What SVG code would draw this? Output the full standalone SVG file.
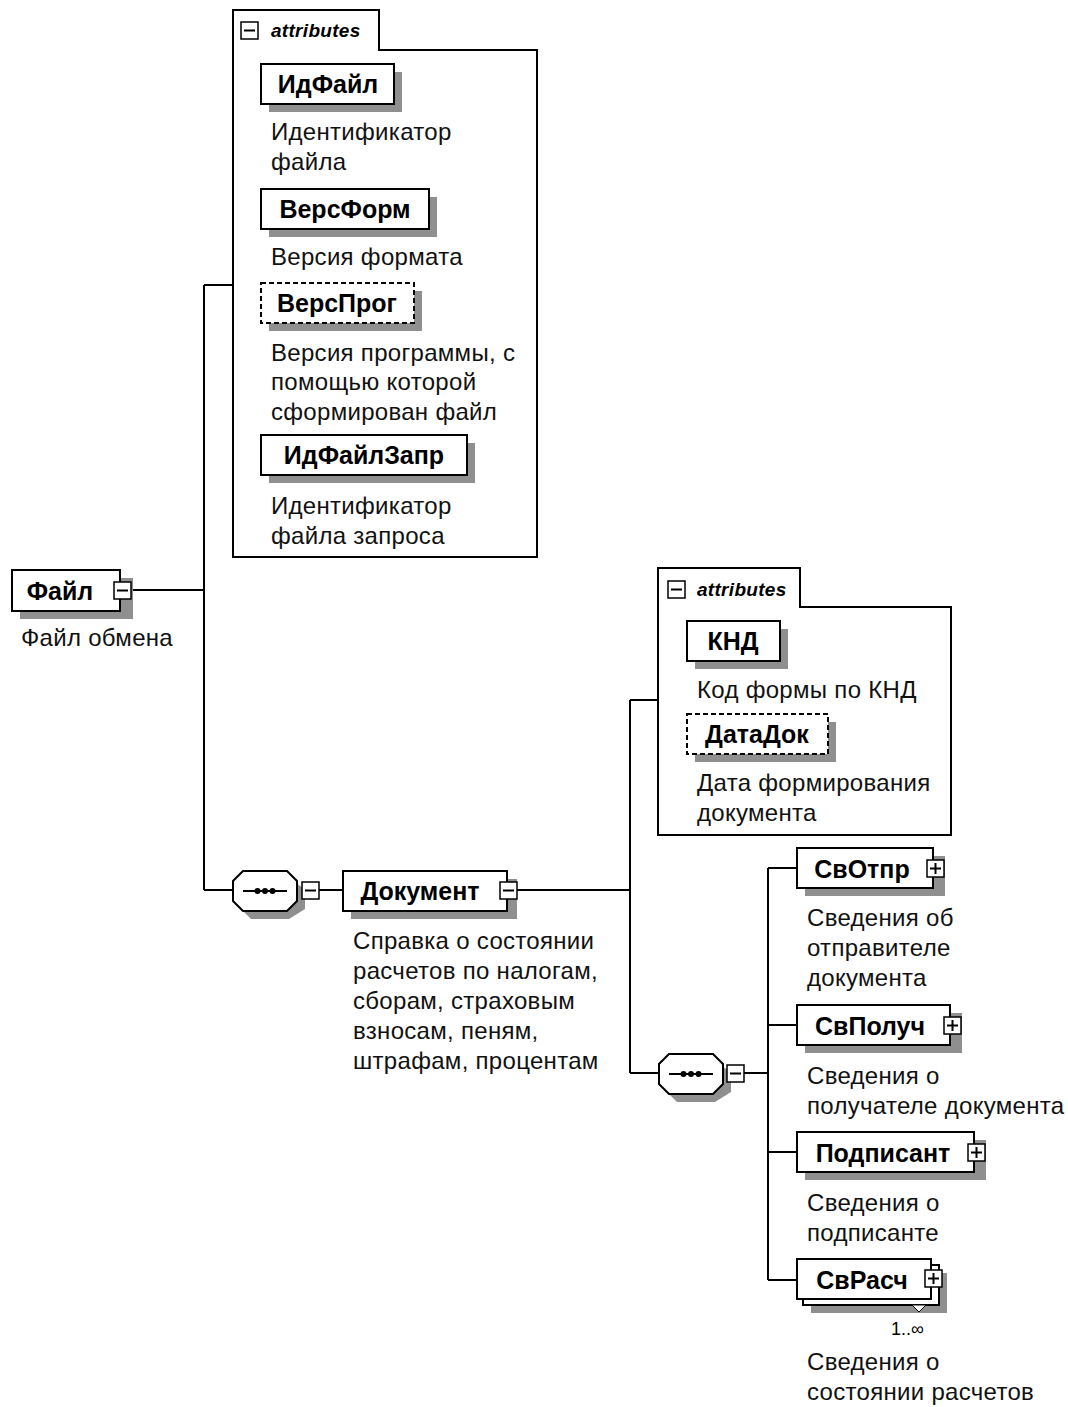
<svg xmlns="http://www.w3.org/2000/svg" width="1068" height="1407" viewBox="0 0 1068 1407">
<defs>
<style>
.bg{fill:#fff}
.box{fill:#fff;stroke:#000;stroke-width:2}
.dbox{fill:#fff;stroke:#000;stroke-width:2;stroke-dasharray:5 3}
.sh{fill:#8f8f8f}
.btn{fill:#fff;stroke:#000;stroke-width:1.5}
.ln{stroke:#000;stroke-width:2;fill:none}
.lbl{font-family:"Liberation Sans",Arial,sans-serif;font-weight:bold;font-size:25px;fill:#000;text-anchor:middle}
.desc{font-family:"Liberation Sans",Arial,sans-serif;font-size:24px;letter-spacing:0.3px;fill:#111}
.att{font-family:"Liberation Sans",Arial,sans-serif;font-style:italic;font-weight:bold;font-size:19px;letter-spacing:0.3px;fill:#000}
.occ{font-family:"Liberation Sans",Arial,sans-serif;font-size:18px;fill:#000}
</style>
<g id="minus"><rect class="btn" x="0" y="0" width="17" height="17"/><line x1="3" y1="8.5" x2="14" y2="8.5" stroke="#000" stroke-width="2"/></g>
<g id="plus"><rect class="btn" x="0" y="0" width="17" height="17"/><line x1="3" y1="8.5" x2="14" y2="8.5" stroke="#000" stroke-width="2"/><line x1="8.5" y1="3" x2="8.5" y2="14" stroke="#000" stroke-width="2"/></g>
<g id="seq">
<polygon class="sh" points="18,8 56,8 72,18 72,38 56,48 18,48 8,38 8,18"/>
<polygon class="box" points="10,0 54,0 64,10 64,30 54,40 10,40 0,30 0,10"/>
<line x1="10" y1="20" x2="54" y2="20" stroke="#000" stroke-width="2"/>
<circle cx="24.5" cy="20" r="3" fill="#000"/>
<circle cx="32" cy="20" r="3" fill="#000"/>
<circle cx="39.5" cy="20" r="3" fill="#000"/>
</g>
</defs>
<rect class="bg" x="0" y="0" width="1068" height="1407"/>

<g id="connectors">
<path class="ln" d="M131,590 H204 M204,285 V890 M204,285 H233 M204,890 H233"/>
<path class="ln" d="M319,890 H343"/>
<path class="ln" d="M517,890 H630 M630,700 V1073 M630,700 H658 M630,1073 H659"/>
<path class="ln" d="M744,1073 H768 M768,868 V1280 M768,868 H797 M768,1025 H797 M768,1152 H797 M768,1280 H797"/>
</g>

<g id="node-fajl">
<rect class="sh" x="20" y="578" width="113" height="41"/>
<rect class="box" x="12" y="570" width="108" height="41"/>
<use href="#minus" x="114" y="582"/>
<text class="lbl" x="60" y="600">Файл</text>
<text class="desc" x="21" y="646">Файл обмена</text>
</g>

<g id="attrs-1">
<path class="box" d="M233,557 V10 H379 V50 H537 V557 Z"/>
<use href="#minus" x="241" y="22"/>
<text class="att" x="271" y="37">attributes</text>
</g>

<g id="node-idfajl">
<rect class="sh" x="269" y="72" width="133" height="40"/>
<rect class="box" x="261" y="64" width="133" height="40"/>
<text class="lbl" x="328" y="93">ИдФайл</text>
<text class="desc" x="271" y="140">Идентификатор</text>
<text class="desc" x="271" y="170">файла</text>
</g>

<g id="node-versform">
<rect class="sh" x="269" y="197" width="168" height="40"/>
<rect class="box" x="261" y="189" width="168" height="40"/>
<text class="lbl" x="345" y="218">ВерсФорм</text>
<text class="desc" x="271" y="265">Версия формата</text>
</g>

<g id="node-versprog">
<rect class="sh" x="269" y="291" width="153" height="40"/>
<rect class="dbox" x="261" y="283" width="153" height="40"/>
<text class="lbl" x="337" y="312">ВерсПрог</text>
<text class="desc" x="271" y="361">Версия программы, с</text>
<text class="desc" x="271" y="390">помощью которой</text>
<text class="desc" x="271" y="420">сформирован файл</text>
</g>

<g id="node-idfajlzapr">
<rect class="sh" x="269" y="443" width="206" height="40"/>
<rect class="box" x="261" y="435" width="206" height="40"/>
<text class="lbl" x="364" y="464">ИдФайлЗапр</text>
<text class="desc" x="271" y="514">Идентификатор</text>
<text class="desc" x="271" y="544">файла запроса</text>
</g>

<g id="seq-1">
<use href="#seq" x="233" y="871"/>
<use href="#minus" x="302" y="882"/>
</g>

<g id="node-dokument">
<rect class="sh" x="351" y="879" width="166" height="40"/>
<rect class="box" x="343" y="871" width="164" height="40"/>
<use href="#minus" x="500" y="882"/>
<text class="lbl" x="420" y="900">Документ</text>
<text class="desc" x="353" y="949">Справка о состоянии</text>
<text class="desc" x="353" y="979">расчетов по налогам,</text>
<text class="desc" x="353" y="1009">сборам, страховым</text>
<text class="desc" x="353" y="1039">взносам, пеням,</text>
<text class="desc" x="353" y="1069">штрафам, процентам</text>
</g>

<g id="attrs-2">
<path class="box" d="M658,835 V568 H800 V607 H951 V835 Z"/>
<use href="#minus" x="668" y="581"/>
<text class="att" x="697" y="596">attributes</text>
</g>

<g id="node-knd">
<rect class="sh" x="695" y="629" width="93" height="40"/>
<rect class="box" x="687" y="621" width="93" height="40"/>
<text class="lbl" x="733" y="650">КНД</text>
<text class="desc" x="697" y="698">Код формы по КНД</text>
</g>

<g id="node-datadok">
<rect class="sh" x="695" y="722" width="141" height="40"/>
<rect class="dbox" x="687" y="714" width="141" height="40"/>
<text class="lbl" x="757" y="743">ДатаДок</text>
<text class="desc" x="697" y="791">Дата формирования</text>
<text class="desc" x="697" y="821">документа</text>
</g>

<g id="seq-2">
<use href="#seq" x="659" y="1054"/>
<use href="#minus" x="727" y="1065"/>
</g>

<g id="node-svotpr">
<rect class="sh" x="805" y="856" width="140" height="40"/>
<rect class="box" x="797" y="848" width="136" height="40"/>
<use href="#plus" x="927" y="860"/>
<text class="lbl" x="862" y="878">СвОтпр</text>
<text class="desc" x="807" y="926">Сведения об</text>
<text class="desc" x="807" y="956">отправителе</text>
<text class="desc" x="807" y="986">документа</text>
</g>

<g id="node-svpoluch">
<rect class="sh" x="805" y="1013" width="157" height="40"/>
<rect class="box" x="797" y="1005" width="153" height="40"/>
<use href="#plus" x="944" y="1017"/>
<text class="lbl" x="870" y="1035">СвПолуч</text>
<text class="desc" x="807" y="1084">Сведения о</text>
<text class="desc" x="807" y="1114">получателе документа</text>
</g>

<g id="node-podpisant">
<rect class="sh" x="805" y="1140" width="181" height="40"/>
<rect class="box" x="797" y="1132" width="177" height="40"/>
<use href="#plus" x="968" y="1144"/>
<text class="lbl" x="883" y="1162">Подписант</text>
<text class="desc" x="807" y="1211">Сведения о</text>
<text class="desc" x="807" y="1241">подписанте</text>
</g>

<g id="node-svrasch">
<rect class="sh" x="811" y="1273" width="136" height="40"/>
<rect class="box" x="803" y="1265" width="136" height="40"/>
<rect class="box" x="797" y="1259" width="134" height="40"/>
<use href="#plus" x="925" y="1270"/>
<text class="lbl" x="862" y="1289">СвРасч</text>
<polygon points="912,1305 926,1305 919,1312" fill="#fff" stroke="#000" stroke-width="1"/>
<text class="occ" x="891" y="1335">1..∞</text>
<text class="desc" x="807" y="1370">Сведения о</text>
<text class="desc" x="807" y="1400">состоянии расчетов</text>
</g>
</svg>
